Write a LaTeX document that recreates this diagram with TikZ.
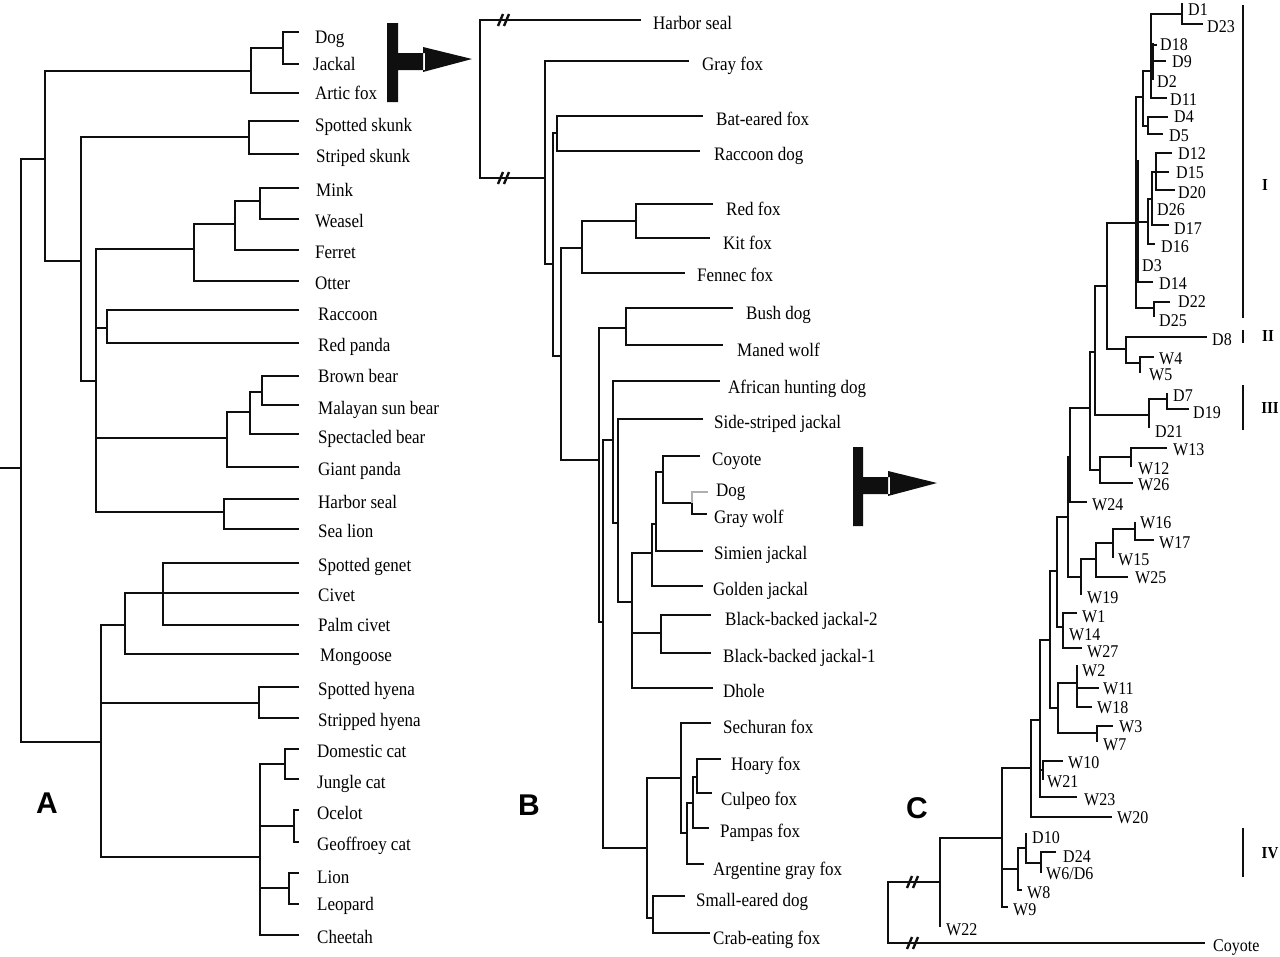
\documentclass[tikz,border=0pt]{standalone}
\usepackage{fontspec}
\setmainfont{Liberation Serif}
\newfontfamily\panelfont{Liberation Sans}
\usepackage{graphicx}
\usepackage{xcolor}
\usepackage{tikz}
\definecolor{inkblack}{RGB}{15,15,15}
\definecolor{faintgray}{RGB}{175,175,175}

\tikzset{
  branch/.style={inkblack, line width=2.6pt, line join=miter},
  twig/.style={inkblack, line width=2.4pt, line join=miter},
  breakmark/.style={inkblack, line width=2.4pt},
  leaf/.style={anchor=base west, inner sep=0pt, font=\fontsize{17}{17}\selectfont},
  clone/.style={anchor=base west, inner sep=0pt, font=\fontsize{16}{16}\selectfont},
  panel/.style={inner sep=0pt, font=\panelfont\bfseries\fontsize{30}{30}\selectfont},
  cladetag/.style={inner sep=0pt, font=\bfseries\fontsize{15}{15}\selectfont},
}
\newcommand{\tall}[1]{\scalebox{1}[1.12]{#1}}

\begin{document}
\begin{tikzpicture}[x=1pt,y=-1pt]
  \useasboundingbox (0,0) rectangle (1280,956);
  \fill[white] (0,0) rectangle (1280,956);

  % panel A: carnivore tree
  \draw[branch] (0,468)--(21,468)
    (45,159)--(21,159)--(21,742)--(101,742)
    (251,71)--(45,71)--(45,261)--(81,261)
    (283,48)--(251,48)--(251,93)--(299,93)
    (299,32)--(283,32)--(283,64)--(299,64)
    (249,137)--(81,137)--(81,381)--(96,381)
    (299,121)--(249,121)--(249,154)--(299,154)
    (194,249)--(96,249)--(96,512)--(224,512)
    (96,328)--(107,328) (96,438)--(227,438)
    (235,224)--(194,224)--(194,281)--(299,281)
    (260,201)--(235,201)--(235,250)--(299,250)
    (299,188)--(260,188)--(260,219)--(299,219)
    (299,310)--(107,310)--(107,343)--(299,343)
    (250,412)--(227,412)--(227,467)--(299,467)
    (262,392)--(250,392)--(250,434)--(299,434)
    (299,376)--(262,376)--(262,405)--(299,405)
    (299,499)--(224,499)--(224,529)--(299,529)
    (125,625)--(101,625)--(101,857)--(260,857)
    (101,703)--(259,703)
    (163,593)--(125,593)--(125,654)--(299,654)
    (299,563)--(163,563)--(163,625)--(299,625) (163,593)--(299,593)
    (299,687)--(259,687)--(259,718)--(299,718)
    (285,764)--(260,764)--(260,935)--(299,935)
    (260,826)--(294,826) (260,888)--(289,888)
    (299,749)--(285,749)--(285,779)--(299,779)
    (299,810)--(294,810)--(294,842)--(299,842)
    (299,873)--(289,873)--(289,904)--(299,904);
  \foreach \name/\x/\y [count=\i] in {Dog/315/37, Jackal/313/64, Artic fox/315/93,
      Spotted skunk/315/125, Striped skunk/316/156, Mink/316/190, Weasel/315/221,
      Ferret/315/252, Otter/315/283, Raccoon/318/314, Red panda/318/345,
      Brown bear/318/376, Malayan sun bear/318/408, Spectacled bear/318/437,
      Giant panda/318/469, Harbor seal/318/502, Sea lion/318/531,
      Spotted genet/318/565, Civet/318/595, Palm civet/318/625, Mongoose/320/655,
      Spotted hyena/318/689, Stripped hyena/318/720, Domestic cat/317/751,
      Jungle cat/317/782, Ocelot/317/813, Geoffroey cat/317/844, Lion/317/877,
      Leopard/317/904, Cheetah/317/937}
    \node[leaf] (sp\i) at (\x,\y+6.5) {\tall{\name}};
  \node[panel] (panA) at (47,803) {A};

  % zoom arrows
  \fill[inkblack] (387,23) rectangle (398,102) (398,53) rectangle (425,70)
    (423,47)--(472,59)--(423,72)--cycle;
  \fill[inkblack] (853,447) rectangle (863,526) (863,477) rectangle (890,494)
    (888,471)--(937,483)--(888,496)--cycle;

  % panel B: canid tree
  \draw[branch] (641,20)--(480,20)--(480,178)--(545,178)
    (689,61)--(545,61)--(545,264)--(553,264)
    (557,133)--(553,133)--(553,356)--(561,356)
    (703,116)--(557,116)--(557,151)--(700,151)
    (582,248)--(561,248)--(561,460)--(599,460)
    (636,221)--(582,221)--(582,273)--(685,273)
    (713,204)--(636,204)--(636,238)--(710,238)
    (626,328)--(599,328)--(599,622)--(603,622)
    (733,308)--(626,308)--(626,345)--(723,345)
    (613,440)--(603,440)--(603,848)--(647,848)
    (720,381)--(613,381)--(613,523)--(618,523)
    (703,419)--(618,419)--(618,602)--(632,602)
    (652,553)--(632,553)--(632,688)--(713,688) (632,633)--(661,633)
    (656,524)--(652,524)--(652,586)--(703,586)
    (663,472)--(656,472)--(656,551)--(703,551)
    (700,456)--(663,456)--(663,503)--(692,503)--(692,514)--(707,514)
    (711,615)--(661,615)--(661,653)--(711,653)
    (681,778)--(647,778)--(647,918)--(653,918)
    (685,896)--(653,896)--(653,933)--(710,933)
    (711,723)--(681,723)--(681,833)--(687,833)
    (693,803)--(687,803)--(687,864)--(704,864)
    (697,777)--(693,777)--(693,828)--(709,828)
    (721,759)--(697,759)--(697,793)--(712,793);
  \draw[faintgray, line width=1.3pt] (692,503)--(692,492)--(708,492);
  \draw[breakmark] (498,26)--(503,14) (504,26)--(509,14)
    (498,184)--(503,172) (504,184)--(509,172);
  \foreach \name/\x/\y [count=\i] in {Harbor seal/653/23, Gray fox/702/64,
      Bat-eared fox/716/119, Raccoon dog/714/154, Red fox/726/209, Kit fox/723/243,
      Fennec fox/697/275, Bush dog/746/313, Maned wolf/737/350,
      African hunting dog/728/387, Side-striped jackal/714/422, Coyote/712/459,
      Dog/716/490, Gray wolf/714/517, Simien jackal/714/553, Golden jackal/713/589,
      Black-backed jackal-2/725/619, Black-backed jackal-1/723/656, Dhole/723/691,
      Sechuran fox/723/727, Hoary fox/731/764, Culpeo fox/721/799,
      Pampas fox/720/831, Argentine gray fox/713/869, Small-eared dog/696/900,
      Crab-eating fox/713/938}
    \node[leaf] (cn\i) at (\x,\y+6.5) {\tall{\name}};
  \node[panel] (panB) at (529,805) {B};

  % panel C: dog and wolf haplotypes
  \draw[twig] (940,882)--(888,882)--(888,943)--(1205,943)
    (1002,838)--(940,838)--(940,927)
    (1031,768)--(1002,768)--(1002,907)--(1008,907) (1002,869)--(1018,869)
    (1026,848)--(1018,848)--(1018,890)--(1022,890)
    (1026,833)--(1026,863)--(1041,863)
    (1056,852)--(1041,852)--(1041,873)
    (1040,720)--(1031,720)--(1031,817)--(1112,817)
    (1050,640)--(1040,640)--(1040,797)--(1077,797) (1040,770)--(1043,770)
    (1063,761)--(1043,761)--(1043,780)
    (1057,571)--(1050,571)--(1050,708)--(1058,708)
    (1077,683)--(1058,683)--(1058,733)--(1097,733)
    (1092,707)--(1077,707)--(1077,665) (1077,688)--(1099,688)
    (1113,726)--(1097,726)--(1097,742)
    (1068,517)--(1057,517)--(1057,627)--(1063,627)
    (1077,613)--(1063,613)--(1063,648)--(1082,648)
    (1070,457)--(1068,457)--(1068,577)--(1081,577)
    (1096,559)--(1081,559)--(1081,595)
    (1113,543)--(1096,543)--(1096,577)--(1128,577)
    (1135,529)--(1113,529)--(1113,558)
    (1135,522)--(1135,540)--(1154,540)
    (1090,408)--(1070,408)--(1070,502)--(1087,502)
    (1095,352)--(1090,352)--(1090,470)--(1100,470)
    (1131,457)--(1100,457)--(1100,483)--(1133,483)
    (1167,448)--(1131,448)--(1131,467)
    (1107,286)--(1095,286)--(1095,415)--(1149,415)
    (1167,399)--(1149,399)--(1149,428)
    (1167,393)--(1167,409)--(1189,409)
    (1136,223)--(1107,223)--(1107,349)--(1126,349)
    (1207,337)--(1126,337)--(1126,363)--(1140,363)
    (1154,357)--(1140,357)--(1140,373)
    (1143,97)--(1136,97)--(1136,308)--(1154,308) (1136,222)--(1148,222)
    (1136,282)--(1153,282)
    (1170,302)--(1154,302)--(1154,317)
    (1182,14)--(1151,14)--(1151,98)--(1167,98) (1151,45)--(1157,45)
    (1151,61)--(1166,61)
    (1151,71)--(1143,71)--(1143,126)--(1148,126)
    (1168,117)--(1148,117)--(1148,134)--(1163,134)
    (1182,3)--(1182,24)--(1203,24)
    (1152,199)--(1148,199)--(1148,244)--(1155,244)
    (1156,172)--(1152,172)--(1152,225)--(1169,225)
    (1172,153)--(1156,153)--(1156,190)--(1175,190) (1156,172)--(1169,172)
    (1153,43)--(1153,80) (1138,160)--(1138,283);
  \draw[breakmark] (907,888)--(912,876) (913,888)--(918,876)
    (907,949)--(912,937) (913,949)--(918,937);
  \foreach \name/\x/\y [count=\i] in {D1/1188/10, D23/1207/27, D18/1160/45,
      D9/1172/62, D2/1157/82, D11/1170/100, D4/1174/117, D5/1169/136,
      D12/1178/154, D15/1176/173, D20/1178/193, D26/1157/210, D17/1174/229,
      D16/1161/247, D3/1142/266, D14/1159/284, D22/1178/302, D25/1159/321,
      D8/1212/340, W4/1159/359, W5/1149/375, D7/1173/396, D19/1193/413,
      D21/1155/432, W13/1173/450, W12/1138/469, W26/1138/485, W24/1092/505,
      W16/1140/523, W17/1159/543, W15/1118/560, W25/1135/578, W19/1087/598,
      W1/1082/617, W14/1069/635, W27/1087/652, W2/1082/671, W11/1103/689,
      W18/1097/708, W3/1119/727, W7/1103/745, W10/1068/763, W21/1047/782,
      W23/1084/800, W20/1117/818, D10/1032/838, D24/1063/857, {W6/D6}/1046/874,
      W8/1027/893, W9/1013/910, W22/946/930, Coyote/1213/946}
    \node[clone] (hp\i) at (\x,\y+5.5) {\tall{\name}};
  \node[panel] (panC) at (917,808) {C};

  % clade bars
  \draw[inkblack, line width=2.6pt] (1243,5)--(1243,318) (1243,330)--(1243,343)
    (1243,385)--(1243,430) (1243,828)--(1243,877);
  \node[cladetag] (cl1) at (1265,185) {\tall{I}};
  \node[cladetag] (cl2) at (1268,336) {\tall{II}};
  \node[cladetag] (cl3) at (1270,408) {\tall{III}};
  \node[cladetag] (cl4) at (1270,853) {\tall{IV}};
\end{tikzpicture}
\end{document}
